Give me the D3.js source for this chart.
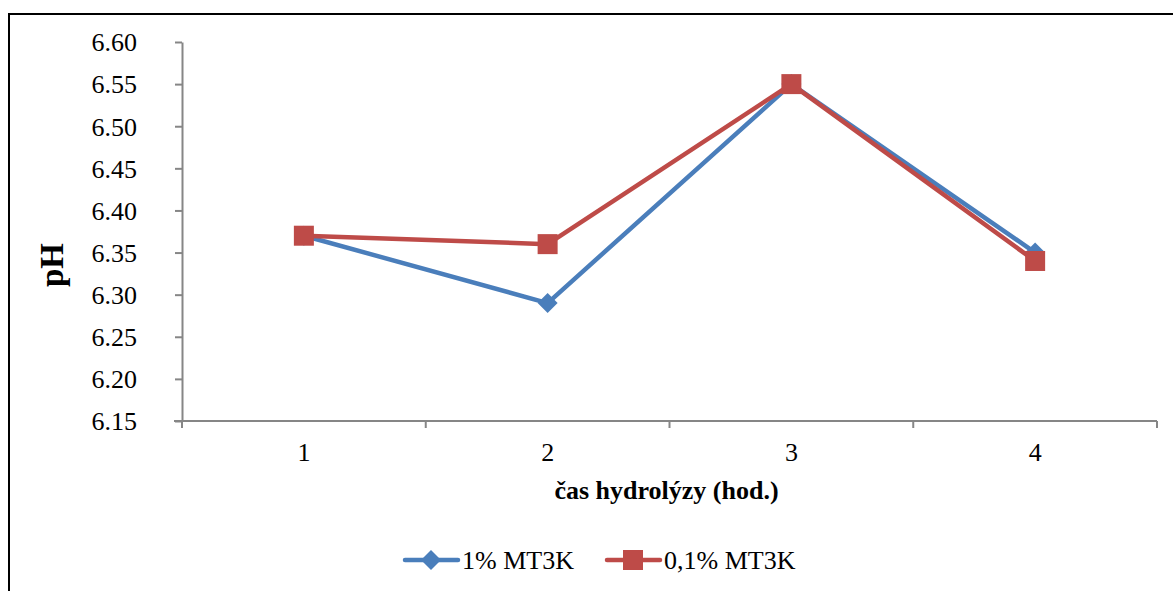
<!DOCTYPE html>
<html>
<head>
<meta charset="utf-8">
<script src="https://cdn.jsdelivr.net/npm/d3@7"></script>
<style>
  html, body { margin: 0; padding: 0; background: #fff; }
  svg { display: block; }
  svg text { font-family: "Liberation Serif", "Times New Roman", Times, "DejaVu Serif", serif; }
</style>
</head>
<body>
<svg id="chart" width="1173" height="591"></svg>
<script>
// Hydrolysis time (hours) and measured pH for two MT3K concentrations
const categories = ["1", "2", "3", "4"];
const series1Name = "1% MT3K";
const series1 = [6.37, 6.29, 6.55, 6.35];
const series2Name = "0,1% MT3K";
const series2 = [6.37, 6.36, 6.55, 6.34];
const yTicks = [6.15, 6.20, 6.25, 6.30, 6.35, 6.40, 6.45, 6.50, 6.55, 6.60];
const xTitle = "čas hydrolýzy (hod.)";
const yTitle = "pH";

const svg = d3.select("#chart");
const axisColor = "#868686";

// outer frame
svg.append("rect")
  .attr("x", 9).attr("y", 14)
  .attr("width", 1200).attr("height", 700)
  .attr("fill", "none").attr("stroke", "#000").attr("stroke-width", 2);

const plot = { left: 182, right: 1157, top: 42, bottom: 421 };

const x = d3.scaleBand().domain(categories).range([plot.left, plot.right]).padding(0);
const y = d3.scaleLinear().domain([6.15, 6.60]).range([plot.bottom, plot.top]);
const cx = d => x(d) + x.bandwidth() / 2;

// y axis
const yAxis = svg.append("g")
  .attr("transform", `translate(${plot.left},0)`)
  .call(d3.axisLeft(y).tickValues(yTicks).tickFormat(d3.format(".2f")).tickSize(7).tickSizeOuter(0).tickPadding(38));
yAxis.attr("font-family", null);
yAxis.select(".domain").attr("stroke", axisColor).attr("stroke-width", 2);
yAxis.selectAll(".tick line").attr("stroke", axisColor).attr("stroke-width", 2);
yAxis.selectAll("text").attr("font-size", 26).attr("fill", "#000").attr("dy", "0.34em");

// x axis with ticks at category boundaries
const xAxis = svg.append("g")
  .attr("transform", `translate(0,${plot.bottom})`);
xAxis.append("line")
  .attr("x1", plot.left - 8).attr("x2", plot.right)
  .attr("y1", 0).attr("y2", 0)
  .attr("stroke", axisColor).attr("stroke-width", 2);
const bounds = categories.map(c => x(c)).concat([plot.right]);
xAxis.selectAll("line.tk").data(bounds).enter().append("line")
  .attr("class", "tk")
  .attr("x1", d => d).attr("x2", d => d)
  .attr("y1", 0).attr("y2", 7)
  .attr("stroke", axisColor).attr("stroke-width", 2);
xAxis.selectAll("text").data(categories).enter().append("text")
  .attr("x", d => cx(d)).attr("y", 40)
  .attr("text-anchor", "middle")
  .attr("font-size", 26)
  .text(d => d);

// axis titles
svg.append("text")
  .attr("x", (plot.left + plot.right) / 2 - 3).attr("y", 499)
  .attr("text-anchor", "middle")
  .attr("font-size", 26).attr("font-weight", "bold")
  .text(xTitle);
svg.append("text")
  .attr("transform", "translate(63,265) rotate(-90)")
  .attr("text-anchor", "middle")
  .attr("font-size", 33).attr("font-weight", "bold")
  .text(yTitle);

const line = d3.line().x((d, i) => cx(categories[i])).y(d => y(d));

const blue = "#4A7EBB";
const red = "#BE4B48";

function drawSeries(values, color, marker) {
  svg.append("path")
    .datum(values)
    .attr("d", line)
    .attr("fill", "none")
    .attr("stroke", color)
    .attr("stroke-width", 4.5)
    .attr("stroke-linejoin", "round");
  const g = svg.append("g");
  values.forEach((v, i) => drawMarker(g, cx(categories[i]), y(v), color, marker));
}

function drawMarker(g, px, py, color, marker) {
  if (marker === "diamond") {
    const r = 10;
    g.append("path")
      .attr("d", `M${px},${py - r}L${px + r},${py}L${px},${py + r}L${px - r},${py}Z`)
      .attr("fill", color);
  } else {
    const s = 20;
    g.append("rect")
      .attr("x", px - s / 2).attr("y", py - s / 2)
      .attr("width", s).attr("height", s)
      .attr("fill", color);
  }
}

drawSeries(series1, blue, "diamond");
drawSeries(series2, red, "square");

// legend
const legend = [
  { name: series1Name, color: blue, marker: "diamond", x: 405 },
  { name: series2Name, color: red, marker: "square", x: 607 }
];
const ly = 560;
legend.forEach(l => {
  svg.append("line")
    .attr("x1", l.x).attr("x2", l.x + 53)
    .attr("y1", ly).attr("y2", ly)
    .attr("stroke", l.color).attr("stroke-width", 4.5)
    .attr("stroke-linecap", "round");
  drawMarker(svg, l.x + 26, ly, l.color, l.marker);
  svg.append("text")
    .attr("x", l.x + 57).attr("y", ly + 9)
    .attr("font-size", 26)
    .text(l.name);
});
</script>
</body>
</html>
